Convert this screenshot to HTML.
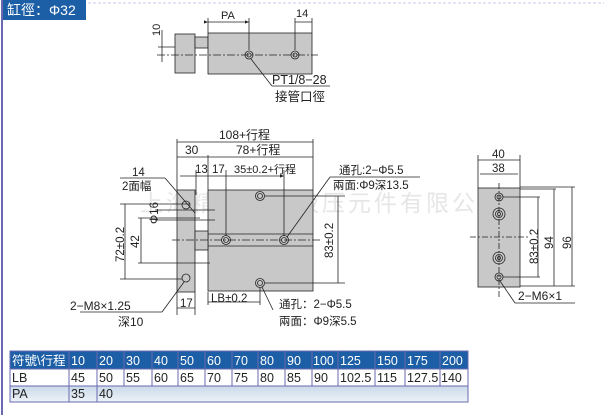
<!DOCTYPE html>
<html><head><meta charset="utf-8"><style>
html,body{margin:0;padding:0;background:#fff;}
svg{display:block;}
text{font-family:"Liberation Sans","Noto Sans CJK SC",sans-serif;fill:#222;}
</style></head><body>
<svg width="604" height="415" viewBox="0 0 604 415" xmlns="http://www.w3.org/2000/svg">
<defs>
<linearGradient id="pa" x1="0" y1="0" x2="0" y2="1"><stop offset="0" stop-color="#c9d9e8"/><stop offset="1" stop-color="#eef3f8"/></linearGradient>
<marker id="ar" markerWidth="6" markerHeight="6" refX="5" refY="3" orient="auto"><path d="M0,1 L5,3 L0,5z" fill="#222"/></marker>
</defs>
<rect x="1" y="0" width="2" height="415" fill="#6a6ab0"/>
<line x1="88" y1="3" x2="604" y2="3" stroke="#c8c8e8" stroke-dasharray="3,2"/>
<rect x="3" y="0" width="83" height="20" fill="#1c5fa6"/>
<text x="7" y="15" font-size="14" style="fill:#fff">缸徑：Φ32</text>

<text x="140" y="211" font-size="23" style="fill:#e6e6e6" letter-spacing="3">上海精臻气动液压元件有限公司</text>

<g stroke="#222" stroke-width="0.8" fill="none">
<rect x="175" y="34" width="20" height="39" fill="#c8c8c8"/>
<rect x="195" y="37" width="13" height="11" fill="#c8c8c8"/>
<rect x="208" y="33" width="104" height="41" fill="#c8c8c8"/>
<line x1="157" y1="55" x2="318" y2="55" stroke-dasharray="8,2,2,2"/>
<circle cx="249" cy="55" r="4"/><circle cx="249" cy="55" r="2"/>
<circle cx="295" cy="55" r="4"/><circle cx="295" cy="55" r="2"/>
<line x1="208" y1="18" x2="208" y2="33"/><line x1="249" y1="18" x2="249" y2="50"/>
<line x1="208" y1="22" x2="249" y2="22" marker-end="url(#ar)" marker-start="url(#ar)"/>
<line x1="295" y1="18" x2="295" y2="50"/><line x1="312" y1="18" x2="312" y2="33"/>
<line x1="295" y1="22" x2="312" y2="22"/>
<line x1="158" y1="47" x2="175" y2="47"/>
<line x1="162" y1="30" x2="162" y2="62"/>
<line x1="251" y1="59" x2="272" y2="86"/><line x1="272" y1="86" x2="330" y2="86"/>

<rect x="177" y="190" width="18" height="102" fill="#c8c8c8"/>
<rect x="208" y="190" width="105" height="101" fill="#c8c8c8"/>
<rect x="195" y="231" width="13" height="19" fill="#c8c8c8"/>
<line x1="208" y1="234" x2="313" y2="234"/><line x1="208" y1="246" x2="313" y2="246"/>
<line x1="172" y1="240" x2="320" y2="240" stroke-dasharray="8,2,2,2"/>
<circle cx="226" cy="240" r="4.5"/><circle cx="226" cy="240" r="2.5"/>
<circle cx="284" cy="240" r="4.5"/><circle cx="284" cy="240" r="2.5"/>
<circle cx="260" cy="196" r="4.5"/><circle cx="260" cy="196" r="2.5"/>
<circle cx="260" cy="283" r="4.5"/><circle cx="260" cy="283" r="2.5"/>
<circle cx="186" cy="205" r="4"/><circle cx="186" cy="278" r="4"/>
<line x1="177" y1="139" x2="177" y2="190"/><line x1="313" y1="139" x2="313" y2="190"/>
<line x1="177" y1="142" x2="313" y2="142"/>
<line x1="177" y1="157" x2="313" y2="157"/>
<line x1="208" y1="155" x2="208" y2="190"/>
<line x1="180" y1="176" x2="226" y2="176"/>
<line x1="196" y1="170" x2="196" y2="195"/>
<line x1="226" y1="170" x2="226" y2="236"/><line x1="284" y1="170" x2="284" y2="236"/>
<line x1="226" y1="176" x2="284" y2="176" marker-end="url(#ar)"/>
<line x1="287" y1="237" x2="330" y2="177"/><line x1="330" y1="177" x2="420" y2="177"/>
<line x1="262" y1="287" x2="273" y2="310"/>
<line x1="265" y1="196" x2="345" y2="196"/><line x1="265" y1="283" x2="345" y2="283"/>
<line x1="338" y1="196" x2="338" y2="283"/>
<line x1="120" y1="204" x2="190" y2="204"/><line x1="125" y1="204" x2="125" y2="279"/>
<line x1="120" y1="279" x2="182" y2="279"/>
<line x1="138" y1="218" x2="200" y2="218"/><line x1="141" y1="218" x2="141" y2="263"/>
<line x1="138" y1="263" x2="210" y2="263"/>
<line x1="155" y1="210" x2="215" y2="210"/><line x1="155" y1="220" x2="215" y2="220"/>
<line x1="120" y1="178" x2="165" y2="178"/><line x1="165" y1="178" x2="195" y2="213"/>
<line x1="184" y1="282" x2="162" y2="312"/><line x1="80" y1="312" x2="162" y2="312"/>
<line x1="177" y1="292" x2="177" y2="315"/><line x1="195" y1="292" x2="195" y2="315"/>
<line x1="177" y1="308" x2="195" y2="308"/>
<line x1="208" y1="292" x2="208" y2="305"/><line x1="260" y1="288" x2="260" y2="305"/>
<line x1="208" y1="302" x2="260" y2="302"/>

<rect x="478" y="188" width="42" height="99" fill="#c8c8c8"/>
<line x1="499" y1="183" x2="499" y2="298" stroke-dasharray="6,2,2,2"/>
<line x1="470" y1="237" x2="528" y2="237" stroke-dasharray="6,2,2,2"/>
<circle cx="499" cy="197" r="4"/><circle cx="499" cy="197" r="2"/>
<circle cx="499" cy="214" r="6"/><circle cx="499" cy="214" r="3.5"/><circle cx="499" cy="214" r="1.5"/>
<circle cx="499" cy="258" r="6"/><circle cx="499" cy="258" r="3.5"/><circle cx="499" cy="258" r="1.5"/>
<circle cx="499" cy="277" r="4"/><circle cx="499" cy="277" r="2"/>
<line x1="478" y1="155" x2="478" y2="188"/><line x1="520" y1="155" x2="520" y2="188"/>
<line x1="478" y1="160" x2="520" y2="160"/><line x1="480" y1="174" x2="518" y2="174"/>
<line x1="503" y1="197" x2="540" y2="197"/><line x1="503" y1="277" x2="540" y2="277"/>
<line x1="538" y1="197" x2="538" y2="277"/>
<line x1="520" y1="189" x2="556" y2="189"/><line x1="520" y1="286" x2="575" y2="286"/>
<line x1="554" y1="189" x2="554" y2="286"/>
<line x1="520" y1="187" x2="575" y2="187"/><line x1="572" y1="187" x2="572" y2="286"/>
<line x1="500" y1="281" x2="515" y2="303"/><line x1="515" y1="303" x2="575" y2="303"/>
</g>

<text x="221" y="19" font-size="11">PA</text>
<text x="296" y="17" font-size="11">14</text>
<text x="0" y="0" font-size="11" transform="translate(160,36) rotate(-90)">10</text>
<text x="272" y="84" font-size="12.5">PT1/8−28</text>
<text x="275" y="101" font-size="12.5">接管口徑</text>
<text x="219" y="139" font-size="12">108+行程</text>
<text x="185" y="154" font-size="12">30</text>
<text x="236" y="154" font-size="12">78+行程</text>
<text x="195" y="173" font-size="11.5">13</text>
<text x="212" y="173" font-size="11.5">17</text>
<text x="234" y="173" font-size="11">35±0.2+行程</text>
<text x="339" y="174" font-size="11.5">通孔:2−Φ5.5</text>
<text x="333" y="189" font-size="11.5">兩面:Φ9深13.5</text>
<text x="132" y="176" font-size="11.5">14</text>
<text x="122" y="190" font-size="11.5">2面幅</text>
<text x="0" y="0" font-size="11.5" transform="translate(158,224) rotate(-90)">Φ16</text>
<text x="0" y="0" font-size="11.5" transform="translate(124,262) rotate(-90)">72±0.2</text>
<text x="0" y="0" font-size="11.5" transform="translate(139,248) rotate(-90)">42</text>
<text x="0" y="0" font-size="11.5" transform="translate(333,258) rotate(-90)">83±0.2</text>
<text x="70" y="310" font-size="12">2−M8×1.25</text>
<text x="118" y="326" font-size="12">深10</text>
<text x="180" y="307" font-size="11.5">17</text>
<text x="211" y="302" font-size="11.5">LB±0.2</text>
<text x="279" y="308" font-size="11.5">通孔：2−Φ5.5</text>
<text x="279" y="325" font-size="11.5">兩面：Φ9深5.5</text>
<text x="492" y="158" font-size="11.5">40</text>
<text x="492" y="172" font-size="11.5">38</text>
<text x="0" y="0" font-size="11.5" transform="translate(538,264) rotate(-90)">83±0.2</text>
<text x="0" y="0" font-size="11.5" transform="translate(553,249) rotate(-90)">94</text>
<text x="0" y="0" font-size="11.5" transform="translate(571,249) rotate(-90)">96</text>
<text x="518" y="300" font-size="12">2−M6×1</text>

<rect x="10" y="351" width="458" height="18" fill="#1c5fa6"/>
<rect x="10" y="369" width="458" height="17" fill="#fff"/>
<rect x="10" y="386" width="458" height="16" fill="url(#pa)"/>
<g stroke="#6a6ab0" stroke-width="1" fill="none">
<rect x="10" y="351" width="458" height="51"/>
<line x1="10" y1="369" x2="468" y2="369"/><line x1="10" y1="386" x2="468" y2="386"/>
<line x1="69" y1="351" x2="69" y2="402"/><line x1="97" y1="351" x2="97" y2="402"/>
<line x1="124" y1="351" x2="124" y2="386"/><line x1="152" y1="351" x2="152" y2="386"/>
<line x1="178" y1="351" x2="178" y2="386"/><line x1="205" y1="351" x2="205" y2="386"/>
<line x1="232" y1="351" x2="232" y2="386"/><line x1="258" y1="351" x2="258" y2="386"/>
<line x1="285" y1="351" x2="285" y2="386"/><line x1="312" y1="351" x2="312" y2="386"/>
<line x1="338" y1="351" x2="338" y2="386"/><line x1="375" y1="351" x2="375" y2="386"/>
<line x1="405" y1="351" x2="405" y2="386"/><line x1="440" y1="351" x2="440" y2="386"/>
</g>
<g font-size="12.5">
<text x="12" y="365" style="fill:#fff">符號\行程</text>
<text x="71" y="365" style="fill:#fff">10</text><text x="99" y="365" style="fill:#fff">20</text>
<text x="126" y="365" style="fill:#fff">30</text><text x="154" y="365" style="fill:#fff">40</text>
<text x="180" y="365" style="fill:#fff">50</text><text x="207" y="365" style="fill:#fff">60</text>
<text x="234" y="365" style="fill:#fff">70</text><text x="260" y="365" style="fill:#fff">80</text>
<text x="287" y="365" style="fill:#fff">90</text><text x="313" y="365" style="fill:#fff">100</text>
<text x="340" y="365" style="fill:#fff">125</text><text x="377" y="365" style="fill:#fff">150</text>
<text x="407" y="365" style="fill:#fff">175</text><text x="442" y="365" style="fill:#fff">200</text>
<text x="12" y="382">LB</text>
<text x="71" y="382">45</text><text x="99" y="382">50</text><text x="126" y="382">55</text>
<text x="154" y="382">60</text><text x="180" y="382">65</text><text x="207" y="382">70</text>
<text x="234" y="382">75</text><text x="260" y="382">80</text><text x="287" y="382">85</text>
<text x="314" y="382">90</text><text x="340" y="382">102.5</text><text x="377" y="382">115</text>
<text x="407" y="382">127.5</text><text x="441" y="382">140</text>
<text x="12" y="398">PA</text><text x="71" y="398">35</text><text x="99" y="398">40</text>
</g>
</svg>
</body></html>
